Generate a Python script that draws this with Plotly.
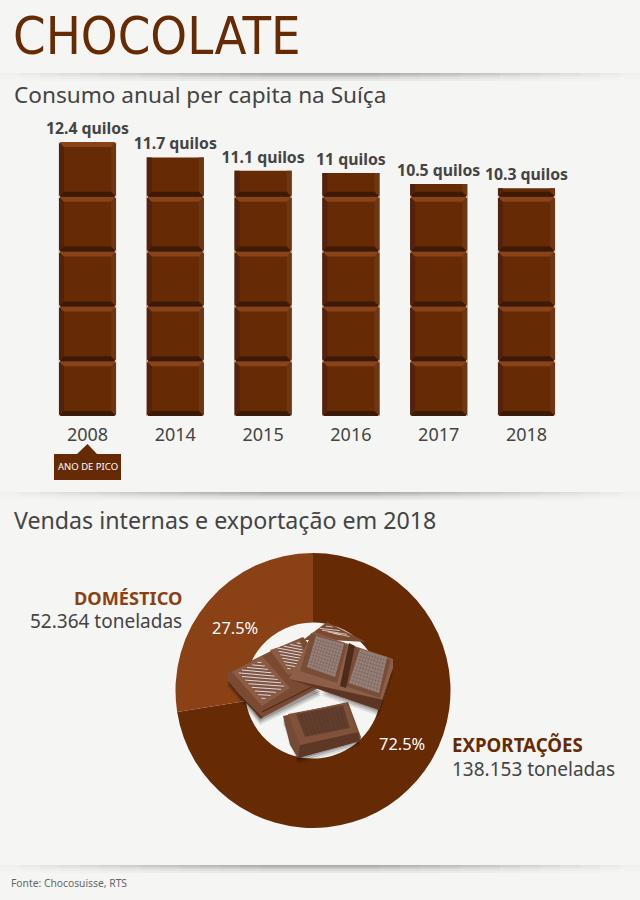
import plotly.graph_objects as go

W, H = 640, 900
BG = "#f5f5f3"
DARK = "#662b05"
MID = "#8a4115"
TEXT = "#444444"
FONT = "Noto Sans"

years = ["2008", "2014", "2015", "2016", "2017", "2018"]
kilos = [12.4, 11.7, 11.1, 11, 10.5, 10.3]
kilo_labels = ["12.4 quilos", "11.7 quilos", "11.1 quilos", "11 quilos", "10.5 quilos", "10.3 quilos"]

sales_labels = ["Exportações", "Doméstico"]
sales_tons = [138153, 52364]
sales_text = ["138.153 toneladas", "52.364 toneladas"]

SQUARE = 2.48  # kilos per chocolate square
KG_PX = 22.1
BAR_W = 0.65
CAT_PX = 87.8


def px(x):
    return x / W


def py(y):
    return 1 - y / H


def poly(points, color, opacity=1):
    path = "M" + " L".join(f"{px(x):.5f},{py(y):.5f}" for x, y in points) + " Z"
    return dict(type="path", xref="paper", yref="paper", path=path, fillcolor=color,
                line_width=0, opacity=opacity)


def seg(a, b, color, width=1, opacity=1):
    return dict(type="line", xref="paper", yref="paper", x0=px(a[0]), y0=py(a[1]), x1=px(b[0]), y1=py(b[1]),
                line=dict(color=color, width=width), opacity=opacity)


def lerp(a, b, t):
    return (a[0] + (b[0] - a[0]) * t, a[1] + (b[1] - a[1]) * t)


def hatch(quad, n, color, width, opacity=1):
    # crosshatch for the fine dither on the chocolate faces
    out = []
    for i in range(1, n):
        t = i / n
        out.append(seg(lerp(quad[0], quad[1], t), lerp(quad[3], quad[2], t), color, width, opacity))
        out.append(seg(lerp(quad[0], quad[3], t), lerp(quad[1], quad[2], t), color, width, opacity))
    return out


def stripes(quad, n, color, width):
    # shallow diagonal white stripes
    out = []
    off = 0.55
    for i in range(n):
        t = -off + (1 + off) * (i + 0.5) / n
        t1, t2 = max(0, t), min(1, t + off)
        a = lerp(quad[0], quad[3], t1) if t >= 0 else lerp(quad[0], quad[1], -t / off)
        b = lerp(quad[1], quad[2], t2) if t + off <= 1 else lerp(quad[3], quad[2], 1 - (t + off - 1) / off)
        out.append(seg(a, b, color, width))
    return out


def square_shapes(i, y0, y1, full):
    bx = BAR_W / 2
    ex = 5 / CAT_PX
    ey = 5 / KG_PX
    l, r = i - bx, i + bx

    def p(points, color):
        path = "M" + " L".join(f"{x:.4f},{y:.4f}" for x, y in points) + " Z"
        return dict(type="path", xref="x", yref="y", path=path, fillcolor=color, line_width=0)

    top = y1 - ey if full else y1
    out = [
        p([(l, y0), (l + ex, y0 + ey), (l + ex, top), (l, y1)], "#53220f"),
        p([(r, y0), (r - ex, y0 + ey), (r - ex, top), (r, y1)], "#6f3613"),
        p([(l, y0), (r, y0), (r - ex, y0 + ey), (l + ex, y0 + ey)], "#3d1a08"),
    ]
    if full:
        out.append(p([(l, y1), (r, y1), (r - ex, top), (l + ex, top)], "#8a4318"))
    # nicked corners and the gap between squares
    cx = 1.6 / CAT_PX
    cy = 1.6 / KG_PX
    out.append(p([(l, y0), (l + cx, y0), (l, y0 + cy)], BG))
    out.append(p([(r, y0), (r - cx, y0), (r, y0 + cy)], BG))
    if full:
        out.append(p([(l, y1), (l + cx, y1), (l, y1 - cy)], BG))
        out.append(p([(r, y1), (r - cx, y1), (r, y1 - cy)], BG))
    return out


shapes = []

# soft shadows under each panel
for y_line in (73, 492, 865):
    for row in range(10):
        fade = (1 - row / 10) ** 2
        for half in range(320, 40, -20):
            shapes.append(dict(type="rect", xref="paper", yref="paper", x0=px(320 - half), x1=px(320 + half),
                               y0=py(y_line + row), y1=py(y_line + row + 1), fillcolor="#000000",
                               opacity=0.024 * fade, line_width=0, layer="below"))

# chocolate squares on top of the bars
for i, v in enumerate(kilos):
    k = 0
    while k * SQUARE < v - 1e-6:
        y0 = k * SQUARE
        y1 = min((k + 1) * SQUARE, v)
        shapes += square_shapes(i, y0, y1, (k + 1) * SQUARE <= v + 1e-6)
        k += 1

# peak-year tag
shapes.append(poly([(54, 454), (77, 454), (87.5, 444), (97, 454), (121, 454), (121, 480), (54, 480)], DARK))

# illustration in the middle of the donut
for off, op in ((6, 0.10), (4, 0.14), (2, 0.18)):
    shapes.append(poly([(227, 680 + off), (275, 650 + off), (320, 690 + off), (260, 719 + off)], "#000000", op))
    shapes.append(poly([(289, 678 + off), (379, 710 + off), (393, 668 + off), (320, 690 + off)], "#000000", op))
    shapes.append(poly([(283, 718 + off), (298, 758 + off), (360, 740 + off), (348, 705 + off)], "#000000", op))

# left bar, behind
shapes.append(poly([(227, 673), (275, 649), (303, 637), (322, 660), (322, 686), (260, 719), (228, 681)], "#7a4a33"))
shapes.append(poly([(232, 672), (262, 656), (290, 688), (262, 706)], "#8c5c43"))
shapes.append(poly([(238, 672), (260, 661), (285, 687), (263, 700)], "#7c5544"))
shapes += stripes([(238, 672), (260, 661), (285, 687), (263, 700)], 12, "#f0e8e2", 0.9)
shapes.append(poly([(270, 650), (300, 640), (310, 664), (288, 675)], "#8c5c43"))
shapes.append(poly([(277, 648), (300, 642), (306, 662), (288, 670)], "#7c5544"))
shapes += stripes([(277, 648), (300, 642), (306, 662), (288, 670)], 10, "#f0e8e2", 0.9)
shapes.append(seg((240, 696), (262, 718), "#4d2a1a", 1.2))
shapes.append(seg((262, 712), (318, 684), "#4d2a1a", 1.2))

# back piece at the top
shapes.append(poly([(303, 640), (327, 622), (366, 642), (330, 640)], "#7a4a32"))
shapes += stripes([(318, 629), (329, 625), (352, 637), (336, 634)], 5, "#e8dcd4", 0.8)

# big right bar
shapes.append(poly([(313, 632), (393, 659), (393, 668), (379, 710), (289, 679)], "#8d5f48"))
shapes.append(poly([(289, 679), (379, 710), (393, 668), (384, 700)], "#5e3523"))
shapes.append(poly([(311, 633), (347, 645), (337, 683), (300, 671)], "#7a4d38"))
shapes.append(poly([(355, 647), (391, 660), (380, 698), (345, 686)], "#7a4d38"))
shapes.append(poly([(349, 643), (355, 646), (346, 688), (340, 686)], "#4d2a1a"))
face_b1 = [(316, 636), (344, 644), (335, 677), (307, 667)]
face_b2 = [(360, 649), (387, 657), (379, 693), (349, 683)]
for face in (face_b1, face_b2):
    shapes.append(poly(face, "#97817a"))
    shapes += hatch(face, 10, "#553326", 0.5, 0.4)

# bottom piece
shapes.append(poly([(283, 716), (348, 702), (361, 737), (360, 741), (298, 758), (290, 745)], "#764b36"))
shapes.append(poly([(300, 745), (358, 732), (360, 741), (298, 758)], "#5f3726"))
shapes.append(poly([(288, 714), (347, 703), (358, 732), (300, 745)], "#80523b"))
face_c = [(296, 714), (343, 705), (350, 728), (305, 737)]
shapes.append(poly(face_c, "#64402f"))
shapes += hatch(face_c, 12, "#3a2218", 0.4, 0.35)

annotations = []


def note(x, y, text, size, color, weight=400, anchor="left", font=FONT):
    annotations.append(dict(xref="paper", yref="paper", x=px(x), y=py(y), text=text, showarrow=False,
                            xanchor=anchor, yanchor="middle", borderpad=0, borderwidth=0,
                            font=dict(family=font, size=size, color=color, weight=weight)))


note(13, 36, "CHOCOLATE", 52, DARK, font="DejaVu Sans Condensed")
note(14, 95, "Consumo anual per capita na Suíça", 22.6, TEXT)
note(14, 520, "Vendas internas e exportação em 2018", 23.2, TEXT)
note(87.5, 467, "ANO DE PICO", 9.5, "#ffffff", anchor="center")
note(182, 598, sales_labels[1].upper(), 18.2, MID, weight=700, anchor="right")
note(182, 621, sales_text[1], 19, TEXT, anchor="right")
note(452, 744, sales_labels[0].upper(), 18.7, DARK, weight=700)
note(452, 769, sales_text[0], 19, TEXT)
note(11, 883, "Fonte: Chocosuisse, RTS", 10.3, "#666666")

total = sum(sales_tons)
note(402, 743, f"{sales_tons[0] / total * 100:.1f}%", 16.4, "#ffffff", anchor="center")
note(235, 627, f"{sales_tons[1] / total * 100:.1f}%", 16.4, "#ffffff", anchor="center")

fig = go.Figure()

fig.add_trace(go.Bar(x=years, y=kilos, width=BAR_W, marker=dict(color=DARK, line_width=0),
                     text=kilo_labels, textposition="outside", cliponaxis=False, constraintext="none",
                     textfont=dict(family=FONT, size=15.8, color=TEXT, weight=700)))

fig.add_trace(go.Pie(labels=sales_labels, values=sales_tons, hole=0.495, sort=False, direction="clockwise",
                     rotation=0, textinfo="none", marker=dict(colors=[DARK, MID], line_width=0),
                     domain=dict(x=[px(175.5), px(450.5)], y=[py(828), py(553)])))

fig.update_xaxes(type="category", domain=[px(43.6), px(570.4)], range=[-0.5, 5.5], showgrid=False, zeroline=False,
                 showline=False, ticks="outside", ticklen=2, tickcolor=BG,
                 tickfont=dict(family=FONT, size=18, color=TEXT))
fig.update_yaxes(domain=[py(416), py(100)], range=[0, 316 / KG_PX], visible=False)

fig.update_layout(width=W, height=H, margin=dict(l=0, r=0, t=0, b=0), paper_bgcolor=BG, plot_bgcolor=BG,
                  showlegend=False, shapes=shapes, annotations=annotations)

fig.write_html("out.html", config={"displayModeBar": False},
               post_script=f"document.body.style.margin='0';document.body.style.background='{BG}';")
